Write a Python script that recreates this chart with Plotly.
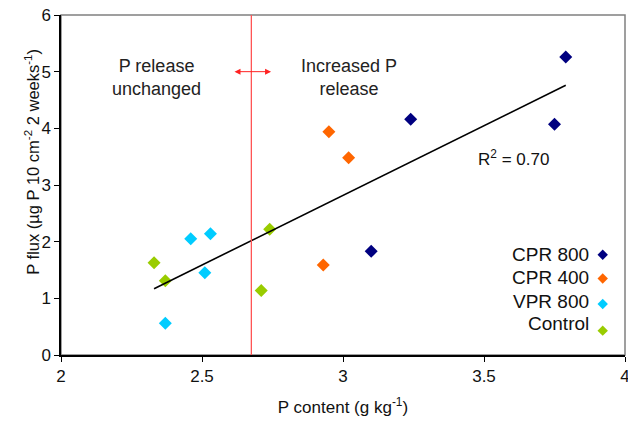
import numpy as np
import plotly.graph_objects as go

cpr800_x = [3.79, 3.24, 3.75, 3.10]
cpr800_y = [5.26, 4.16, 4.07, 1.83]
cpr400_x = [2.95, 3.02, 2.93]
cpr400_y = [3.94, 3.48, 1.59]
vpr800_x = [2.46, 2.53, 2.51, 2.37]
vpr800_y = [2.05, 2.14, 1.45, 0.56]
control_x = [2.33, 2.37, 2.74, 2.71]
control_y = [1.63, 1.31, 2.22, 1.14]

series_names = ["CPR 800", "CPR 400", "VPR 800", "Control"]
series_colors = ["#000080", "#FF6600", "#00CCFF", "#99CC00"]

trend_x = [2.33, 3.79]
trend_y = [1.17, 4.76]
threshold_x = 2.675
arrow_x = [2.61, 2.745]
arrow_y = 5.0

legend_text_y = [1.77, 1.36, 0.95, 0.55]
legend_marker_y = [1.77, 1.35, 0.9, 0.43]

FONT = "Liberation Sans, Arial, sans-serif"

fig = go.Figure()
for xs, ys, name, col in zip([cpr800_x, cpr400_x, vpr800_x, control_x],
                             [cpr800_y, cpr400_y, vpr800_y, control_y],
                             series_names, series_colors):
    fig.add_trace(go.Scatter(x=xs, y=ys, mode="markers", name=name,
                             marker=dict(symbol="diamond", size=10, color=col),
                             showlegend=False))

fig.add_trace(go.Scatter(x=trend_x, y=trend_y, mode="lines",
                         line=dict(color="black", width=1.6), showlegend=False))

# threshold line
fig.add_shape(type="line", x0=threshold_x, x1=threshold_x, y0=0, y1=6,
              xref="x", yref="y", line=dict(color="#FF5555", width=1.3))
# double arrow
fig.add_annotation(x=arrow_x[1], y=arrow_y, ax=arrow_x[0], ay=arrow_y,
                   xref="x", yref="y", axref="x", ayref="y", text="",
                   showarrow=True, arrowhead=2, arrowside="end+start",
                   arrowcolor="#FF2222", arrowwidth=1, arrowsize=1.2)

fig.add_annotation(x=2.34, y=4.9, xref="x", yref="y",
                   text="P release<br>unchanged", showarrow=False,
                   font=dict(family=FONT, size=18, color="#222"))
fig.add_annotation(x=3.02, y=4.9, xref="x", yref="y",
                   text="Increased P<br>release", showarrow=False,
                   font=dict(family=FONT, size=18, color="#222"))
fig.add_annotation(x=3.605, y=3.48, xref="x", yref="y",
                   text="R<sup>2</sup> = 0.70", showarrow=False,
                   font=dict(family=FONT, size=17, color="#111"))

# legend (text on the left, marker on the right)
for name, ty in zip(series_names, legend_text_y):
    fig.add_annotation(x=3.88, y=ty, xref="x", yref="y", xanchor="right",
                       text=name, showarrow=False,
                       font=dict(family=FONT, size=19, color="#111"))
fig.add_trace(go.Scatter(x=[3.921] * 4, y=legend_marker_y, mode="markers",
                         marker=dict(symbol="diamond", size=8, color=series_colors),
                         showlegend=False))

# y axis title as annotation for exact placement
fig.add_annotation(x=-0.073, y=0.568, xref="paper", yref="paper", showarrow=False,
                   textangle=-90,
                   text="P flux (µg P 10 cm<sup>-2</sup> 2 weeks<sup>-1</sup>)",
                   font=dict(family=FONT, size=16.5, color="#111"))

fig.update_layout(
    width=628, height=423,
    margin=dict(l=61, r=3, t=15, b=68, autoexpand=False),
    plot_bgcolor="white", paper_bgcolor="white",
    font=dict(family=FONT, size=17, color="#111"),
    xaxis=dict(range=[2, 4], dtick=0.5, showgrid=False, zeroline=False,
               showline=True, linecolor="black", linewidth=1.5,
               ticks="outside", ticklen=5, tickcolor="black", automargin=False,
               tickfont=dict(size=17), ticklabeloverflow="allow",
               title=dict(text="P content (g kg<sup>-1</sup>)", font=dict(size=17), standoff=16)),
    yaxis=dict(range=[0, 6], dtick=1, showgrid=False, zeroline=False,
               showline=True, linecolor="black", linewidth=1.5, automargin=False,
               ticks="outside", ticklen=5, tickcolor="black",
               tickfont=dict(size=17)),
    shapes=list(fig.layout.shapes) + [dict(type="rect", xref="paper", yref="paper",
                                           x0=0, x1=1, y0=0, y1=1,
                                           line=dict(color="#808080", width=1.5), layer="below")],
)

fig.write_html("out.html")
